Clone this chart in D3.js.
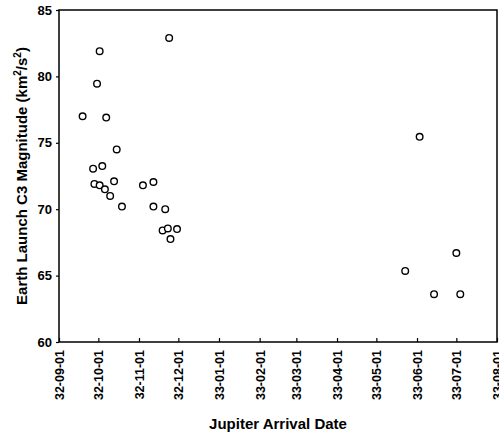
<!DOCTYPE html>
<html>
<head>
<meta charset="utf-8">
<script src="https://cdn.jsdelivr.net/npm/d3@7"></script>
<style>
  body { margin: 0; background: #fff; }
  text { font-family: "Liberation Sans", Arial, sans-serif; font-weight: bold; fill: #000; }
</style>
</head>
<body>
<div id="chart"></div>
<script>
// arrival dates (yy-mm-dd, 20yy) and launch C3 values
var arrivalDates = [
  "2032-09-19", "2032-09-27", "2032-09-28", "2032-09-30", "2032-10-02",
  "2032-10-02", "2032-10-04", "2032-10-06", "2032-10-07", "2032-10-10",
  "2032-10-13", "2032-10-15", "2032-10-19", "2032-11-04", "2032-11-12",
  "2032-11-12", "2032-11-19", "2032-11-21", "2032-11-23", "2032-11-24",
  "2032-11-25", "2032-11-30", "2033-05-23", "2033-06-03", "2033-06-14",
  "2033-07-01", "2033-07-04"
];
var c3Values = [
  77.0, 73.05, 71.9, 79.45, 81.9,
  71.8, 73.25, 71.5, 76.9, 71.0,
  72.1, 74.5, 70.2, 71.8, 72.05,
  70.2, 68.4, 70.0, 68.55, 82.9,
  67.75, 68.5, 65.35, 75.45, 63.6,
  66.7, 63.6
];
var xTickDates = [
  "2032-09-01", "2032-10-01", "2032-11-01", "2032-12-01", "2033-01-01", "2033-02-01",
  "2033-03-01", "2033-04-01", "2033-05-01", "2033-06-01", "2033-07-01", "2033-08-01"
];
var yTicks = [60, 65, 70, 75, 80, 85];

var W = 499, H = 433;
var margin = { top: 10, right: 2, bottom: 91, left: 59 };
var width = W - margin.left - margin.right,
    height = H - margin.top - margin.bottom;

var parse = d3.timeParse("%Y-%m-%d");
var fmt = d3.timeFormat("%y-%m-%d");

var x = d3.scaleTime()
  .domain([parse(xTickDates[0]), parse(xTickDates[xTickDates.length - 1])])
  .range([0, width]);
var y = d3.scaleLinear().domain([60, 85]).range([height, 0]);

var svg = d3.select("#chart").append("svg")
  .attr("width", W)
  .attr("height", H)
  .append("g")
  .attr("transform", "translate(" + margin.left + "," + margin.top + ")");

// x axis: ticks point inward, labels rotated
var xAxis = svg.append("g")
  .attr("transform", "translate(0," + height + ")")
  .call(d3.axisBottom(x)
    .tickValues(xTickDates.map(parse))
    .tickFormat(fmt)
    .tickSize(-4)
    .tickPadding(8));
xAxis.select(".domain").remove();
xAxis.selectAll("line").attr("stroke", "#000").attr("stroke-width", 1.2);
xAxis.selectAll("text")
  .style("font-size", "12.5px")
  .attr("fill", "#000")
  .attr("transform", "rotate(-90)")
  .attr("text-anchor", "end")
  .attr("x", -8)
  .attr("y", 0)
  .attr("dy", "0.35em");

var yAxis = svg.append("g")
  .call(d3.axisLeft(y).tickValues(yTicks).tickSize(3).tickPadding(4));
yAxis.select(".domain").remove();
yAxis.selectAll("line").attr("stroke", "#000").attr("stroke-width", 1.2);
yAxis.selectAll("text").style("font-size", "13px").attr("fill", "#000");

// frame
svg.append("rect")
  .attr("width", width)
  .attr("height", height)
  .attr("fill", "none")
  .attr("stroke", "#000")
  .attr("stroke-width", 1.5);

var pts = arrivalDates.map(function (d, i) {
  return { date: parse(d), c3: c3Values[i] };
});

svg.selectAll(".pt")
  .data(pts)
  .enter().append("circle")
  .attr("class", "pt")
  .attr("cx", function (d) { return x(d.date); })
  .attr("cy", function (d) { return y(d.c3); })
  .attr("r", 3.3)
  .attr("fill", "#fff")
  .attr("stroke", "#000")
  .attr("stroke-width", 1.4);

// axis titles
svg.append("text")
  .attr("x", width / 2)
  .attr("y", height + 87)
  .attr("text-anchor", "middle")
  .style("font-size", "15px")
  .text("Jupiter Arrival Date");

var yt = svg.append("text")
  .attr("transform", "translate(" + (-32) + "," + (height / 2) + ")rotate(-90)")
  .attr("text-anchor", "middle")
  .style("font-size", "15px");
yt.append("tspan").text("Earth Launch C3 Magnitude (km");
yt.append("tspan").attr("dy", -6).style("font-size", "10px").text("2");
yt.append("tspan").attr("dy", 6).text("/s");
yt.append("tspan").attr("dy", -6).style("font-size", "10px").text("2");
yt.append("tspan").attr("dy", 6).text(")");
</script>
</body>
</html>
